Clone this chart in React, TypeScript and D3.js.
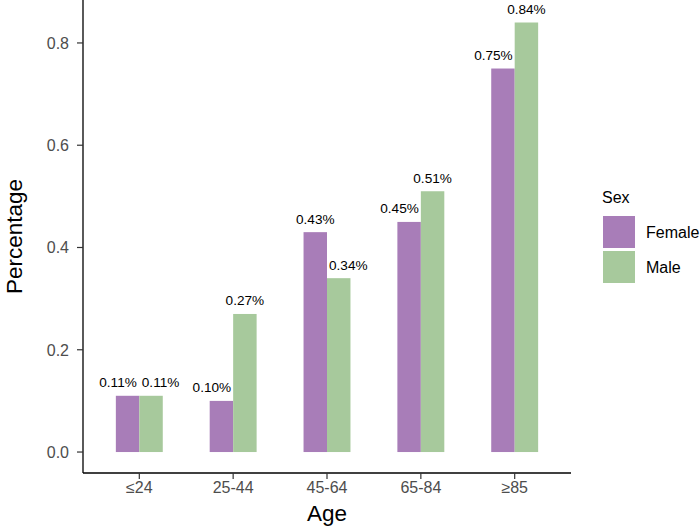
import React from "react";
import * as d3 from "d3";

const ageGroups = ["≤24", "25-44", "45-64", "65-84", "≥85"];
const female = [0.11, 0.1, 0.43, 0.45, 0.75];
const male = [0.11, 0.27, 0.34, 0.51, 0.84];
const yTicks = [0, 0.2, 0.4, 0.6, 0.8];
const sexes = ["Female", "Male"];
const colors = ["#a87db8", "#a7c99c"];

const font = "'Liberation Sans', Arial, Helvetica, sans-serif";

// rough Arial widths (em) for the label glyphs
const glyphW: Record<string, number> = { "0": 0.556, "1": 0.556, "2": 0.556, "3": 0.556, "4": 0.556, "5": 0.556, "6": 0.556, "7": 0.556, "8": 0.556, "9": 0.556, ".": 0.278, "%": 0.889 };
const textWidth = (s: string, size: number) =>
  s.split("").reduce((sum, c) => sum + (glyphW[c] ?? 0.556), 0) * size;

export default function App() {
  const width = 700;
  const height = 530;
  const left = 83;
  const right = 571;
  const top = 0;
  const bottom = 473;
  const labelSize = 13.6;
  const gap = 2;

  const x = d3.scalePoint<string>().domain(ageGroups).range([left, right]).padding(0.6);
  const step = x.step();
  const barW = step * 0.25;

  const y = d3.scaleLinear().domain([-0.041, 0.884]).range([bottom, top]);

  // nudge labels sideways so they don't sit on the neighbouring bar or each other
  const labelX = (i: number, si: number, w: number) => {
    const cx = x(ageGroups[i])!;
    const own = si === 0 ? female[i] : male[i];
    const other = si === 0 ? male[i] : female[i];
    const centre = si === 0 ? cx - barW / 2 : cx + barW / 2;
    if (other >= own) {
      return si === 0 ? Math.min(centre, cx - gap - w / 2) : Math.max(centre, cx + gap + w / 2);
    }
    return centre;
  };

  const series = [female, male];

  return (
    <svg
      width={width}
      height={height}
      style={{ position: "absolute", left: 0, top: 0, background: "#fff" }}
      fontFamily={font}
    >
      {/* bars */}
      {series.map((vals, si) =>
        vals.map((v, i) => {
          const cx = x(ageGroups[i])!;
          const x0 = si === 0 ? cx - barW : cx;
          const label = `${v.toFixed(2)}%`;
          const w = textWidth(label, labelSize);
          return (
            <g key={`${si}-${i}`}>
              <rect x={x0} y={y(v)} width={barW} height={y(0) - y(v)} fill={colors[si]} />
              <text
                x={labelX(i, si, w)}
                y={y(v) - 8.5}
                textAnchor="middle"
                fontSize={labelSize}
                fill="#000"
              >
                {label}
              </text>
            </g>
          );
        })
      )}

      {/* y axis */}
      <line x1={left} x2={left} y1={top} y2={bottom} stroke="#000" strokeWidth={1.3} />
      {yTicks.map((t) => (
        <g key={t}>
          <line x1={left - 6} x2={left} y1={y(t)} y2={y(t)} stroke="#333" strokeWidth={1.2} />
          <text x={left - 14} y={y(t)} dy="0.36em" textAnchor="end" fontSize={16} fill="#4d4d4d">
            {t.toFixed(1)}
          </text>
        </g>
      ))}

      {/* x axis */}
      <line x1={left} x2={right} y1={bottom} y2={bottom} stroke="#000" strokeWidth={1.3} />
      {ageGroups.map((g) => (
        <g key={g}>
          <line x1={x(g)} x2={x(g)} y1={bottom} y2={bottom + 6} stroke="#333" strokeWidth={1.2} />
          <text x={x(g)} y={bottom + 20} textAnchor="middle" fontSize={16} fill="#4d4d4d">
            {g}
          </text>
        </g>
      ))}

      {/* axis titles */}
      <text x={(left + right) / 2} y={521} textAnchor="middle" fontSize={22.5} fill="#000">
        Age
      </text>
      <text
        transform={`translate(22, ${(top + bottom) / 2}) rotate(-90)`}
        textAnchor="middle"
        fontSize={22.5}
        fill="#000"
      >
        Percentage
      </text>

      {/* legend */}
      <text x={602} y={203} fontSize={16} fill="#000">
        Sex
      </text>
      {sexes.map((s, i) => (
        <g key={s}>
          <rect x={603} y={216 + i * 35} width={32} height={32} fill={colors[i]} />
          <text x={646} y={232 + i * 35} dy="0.36em" fontSize={16} fill="#000">
            {s}
          </text>
        </g>
      ))}
    </svg>
  );
}
